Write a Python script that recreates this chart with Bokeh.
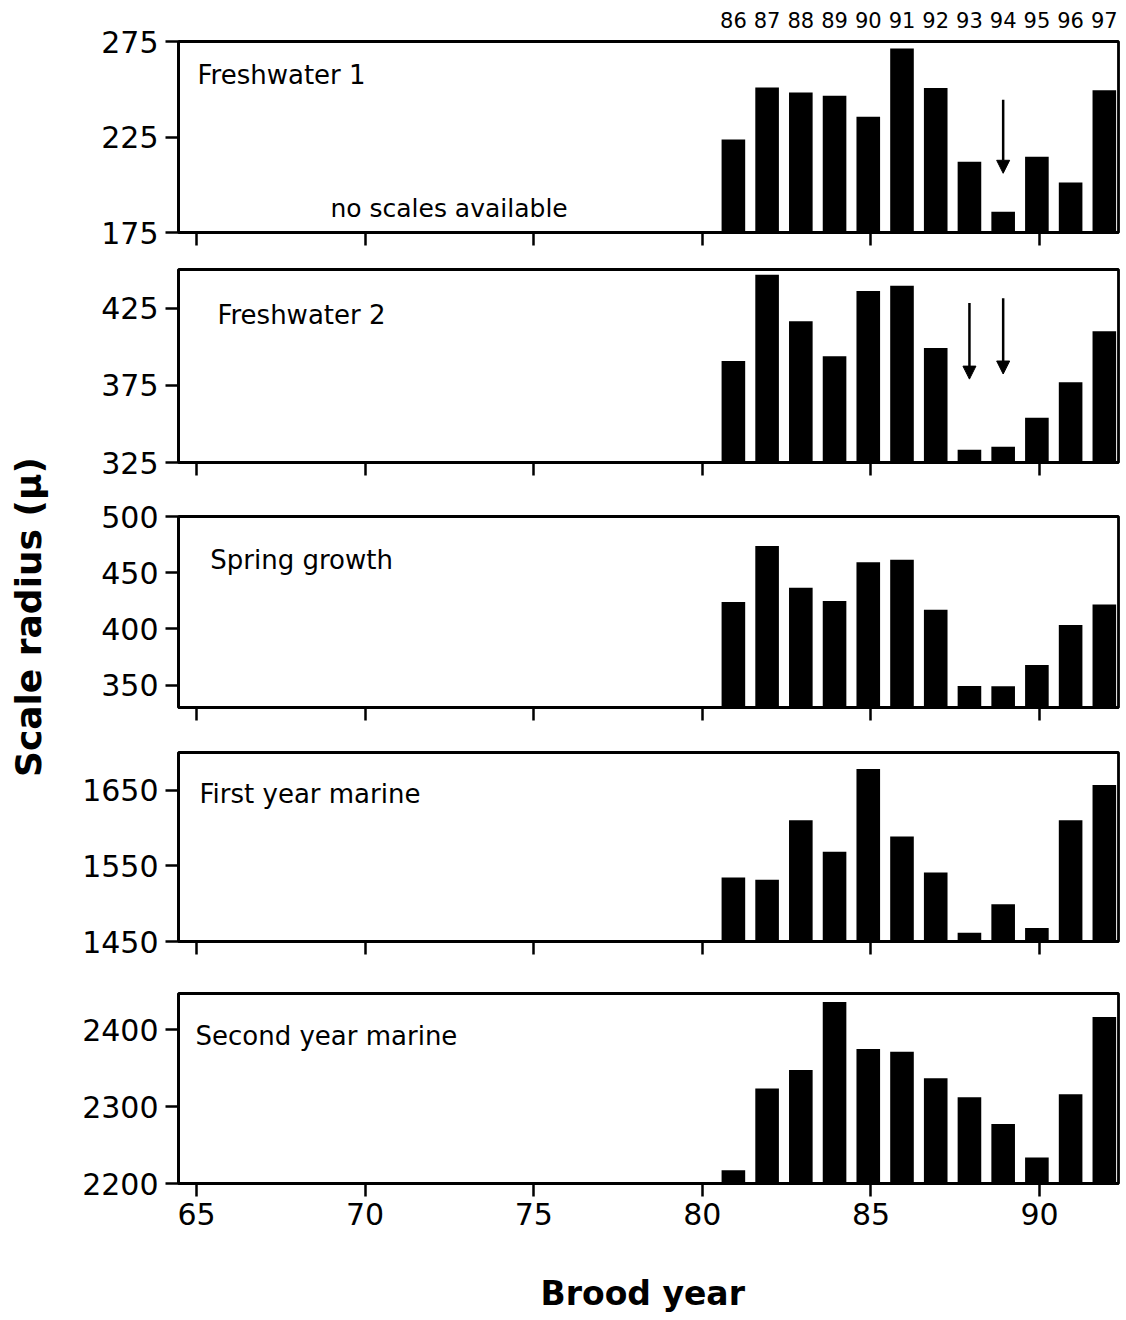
import numpy as np
from bokeh.plotting import figure
from bokeh.layouts import column, row
from bokeh.models import (Range1d, FixedTicker, LinearAxis, Arrow, NormalHead,
                          Label, ColumnDataSource, CustomLabelingPolicy)
from bokeh.transform import dodge
from bokeh.core.properties import value
from bokeh.embed import file_html
from bokeh.resources import INLINE

# ---------------- data ----------------
brood_years = [81, 82, 83, 84, 85, 86, 87, 88, 89, 90, 91, 92]
return_years = [86, 87, 88, 89, 90, 91, 92, 93, 94, 95, 96, 97]
freshwater_1 = [223.7, 250.9, 248.3, 246.6, 235.6, 271.3, 250.7, 212.0, 185.8, 214.6, 201.2, 249.5]
freshwater_2 = [390.8, 446.6, 416.5, 393.8, 436.1, 439.4, 399.1, 333.3, 335.2, 354.0, 376.9, 410.0]
spring_growth = [424.0, 473.8, 436.5, 424.7, 459.3, 461.4, 417.0, 349.2, 348.9, 367.9, 403.4, 421.7]
first_year_marine = [1534.8, 1531.7, 1610.3, 1568.8, 1678.3, 1589.0, 1541.4, 1461.5, 1499.4, 1467.7, 1610.3, 1657.0]
second_year_marine = [2217.3, 2323.4, 2347.6, 2435.9, 2374.9, 2371.4, 2336.8, 2312.1, 2277.5, 2233.8, 2316.0, 2416.5]
x_ticks = [65, 70, 75, 80, 85, 90]
panel_titles = ["Freshwater  1", "Freshwater  2", "Spring  growth",
                "First  year  marine", "Second year marine"]
# arrows: (panel index, brood year, start value, end value)
arrow_panel = [0, 1, 1]
arrow_year = [89, 88, 89]
arrow_from = [244.5, 428.3, 431.3]
arrow_to = [206.0, 379.0, 382.3]

FONT = "DejaVu Sans"
DODGE = -0.08
BAR_W = 0.70
X0, X1 = 64.466, 92.34

series = [freshwater_1, freshwater_2, spring_growth, first_year_marine, second_year_marine]
y_ranges = [(175, 275), (325, 450), (330, 500), (1450, 1700), (2200, 2447)]
y_ticks = [[175, 225, 275], [325, 375, 425], [350, 400, 450, 500],
           [1450, 1550, 1650], [2200, 2300, 2400]]
frame_h = [191, 193, 191, 189, 190]
border_top = [41, 17, 30, 23, 30]
border_bottom = [20, 24, 22, 22, 137]
title_pos = [(65.03, 257.7), (65.62, 420.4), (65.41, 461.0), (65.09, 1645.6), (64.97, 2392.0)]

x_range = Range1d(X0, X1)
panels = []
for i, vals in enumerate(series):
    ylo, yhi = y_ranges[i]
    p = figure(frame_width=940, frame_height=frame_h[i], x_range=x_range,
               y_range=Range1d(ylo, yhi), output_backend="svg", toolbar_location=None,
               min_border_left=118, min_border_right=8,
               min_border_top=border_top[i], min_border_bottom=border_bottom[i],
               background_fill_color="white", border_fill_color="white")
    p.outline_line_color = "black"
    p.outline_line_width = 2.8
    p.outline_line_alpha = 1.0
    p.xgrid.visible = False
    p.ygrid.visible = False

    src = ColumnDataSource(dict(year=brood_years, val=vals))
    p.vbar(x=dodge("year", DODGE), top="val", bottom=ylo, width=BAR_W, source=src,
           fill_color="black", line_color=None)

    xa = p.xaxis[0]
    xa.ticker = FixedTicker(ticks=x_ticks)
    xa.major_tick_out = 13
    xa.major_tick_in = 0
    xa.minor_tick_line_color = None
    xa.axis_line_width = 2.8
    xa.major_tick_line_width = 2.5
    if i < 4:
        xa.major_label_text_font_size = "2px"
        xa.major_label_standoff = 0
        xa.major_label_policy = CustomLabelingPolicy(code="return []")
    else:
        xa.major_label_text_font = FONT
        xa.major_label_text_font_size = "30px"
        xa.major_label_text_color = "black"
        xa.major_label_standoff = 6
        xa.axis_label = "Brood  year"
        xa.axis_label_text_font = FONT
        xa.axis_label_text_font_style = "bold"
        xa.axis_label_text_font_size = "33px"
        xa.axis_label_text_color = "black"
        xa.axis_label_standoff = 46

    ya = p.yaxis[0]
    ya.ticker = FixedTicker(ticks=y_ticks[i])
    ya.major_tick_out = 13
    ya.major_tick_in = 0
    ya.minor_tick_line_color = None
    ya.axis_line_width = 2.8
    ya.major_tick_line_width = 2.5
    ya.major_label_text_font = FONT
    ya.major_label_text_font_size = "30px"
    ya.major_label_text_color = "black"
    ya.major_label_standoff = 7

    tx, ty = title_pos[i]
    p.add_layout(Label(x=tx, y=ty, text=panel_titles[i], text_font=FONT,
                       text_font_size="26px", text_color="black",
                       text_baseline="alphabetic"))

    if i == 0:
        p.add_layout(Label(x=68.97, y=187.7, text="no scales available", text_font=FONT,
                           text_font_size="25px", text_color="black",
                           text_baseline="alphabetic"))
        p.extra_x_ranges = {"ret": Range1d(X0 + 5 - DODGE, X1 + 5 - DODGE)}
        top = LinearAxis(x_range_name="ret", ticker=FixedTicker(ticks=return_years))
        top.axis_line_color = None
        top.major_tick_line_color = None
        top.minor_tick_line_color = None
        top.major_tick_out = 0
        top.major_tick_in = 0
        top.major_label_text_font = FONT
        top.major_label_text_font_size = "21px"
        top.major_label_text_color = "black"
        top.major_label_standoff = 14
        p.add_layout(top, "above")

    for k in range(len(arrow_panel)):
        if arrow_panel[k] == i:
            p.add_layout(Arrow(end=NormalHead(size=13, fill_color="black", line_color="black"),
                               x_start=arrow_year[k] + DODGE, y_start=arrow_from[k],
                               x_end=arrow_year[k] + DODGE, y_end=arrow_to[k],
                               line_color="black", line_width=2.5))
    panels.append(p)

# left strip with the shared y-axis title
left = figure(width=60, height=1320, x_range=Range1d(0, 60), y_range=Range1d(0, 1320),
              output_backend="svg", toolbar_location=None, min_border=0)
left.axis.visible = False
left.grid.visible = False
left.outline_line_color = None
left.text(x=[28], y=[716], text=["Scale  radius  (μ)"], angle=np.pi / 2,
          text_align="center", text_baseline="middle", text_font=value(FONT),
          text_font_style="bold", text_font_size="36px", text_color="black")

layout = row(left, column(*panels))
open("out.html", "w").write(file_html(layout, INLINE))
